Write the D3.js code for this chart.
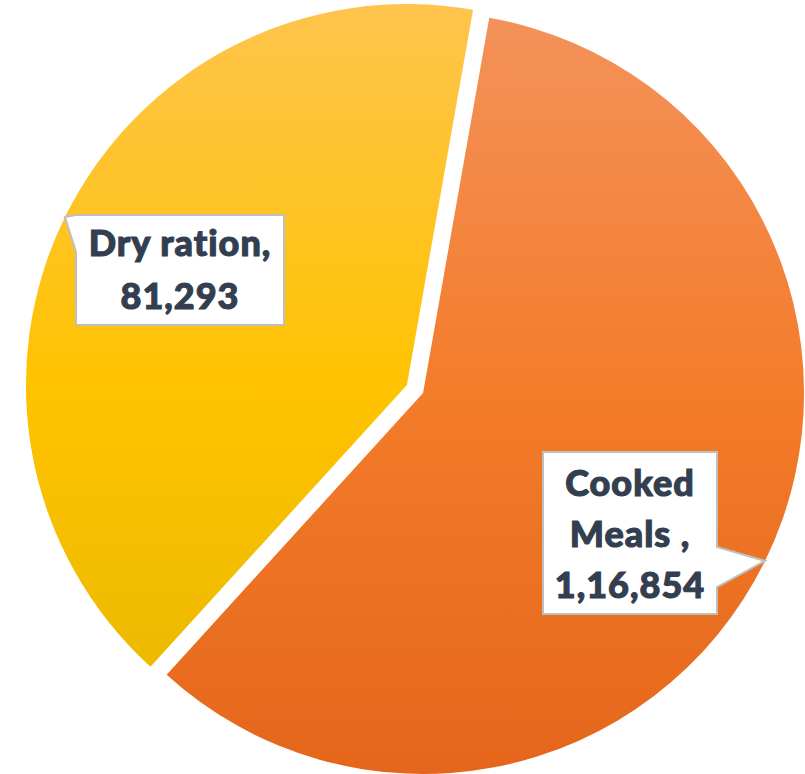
<!DOCTYPE html>
<html>
<head>
<meta charset="utf-8">
<title>Meals pie</title>
<script src="https://cdnjs.cloudflare.com/ajax/libs/d3/7.8.5/d3.min.js"></script>
<style>
  html, body { margin: 0; padding: 0; background: #fff; }
  svg { display: block; }
  .lbl { font-family: Lato, "Open Sans", sans-serif; font-weight: 900; fill: #333F50;
         stroke: #333F50; stroke-width: 1.1px; letter-spacing: 1px; }
</style>
</head>
<body>
<div id="chart"></div>
<script>
// data
const categories = ["Cooked Meals", "Dry ration"];
const values = [116854, 81293];
const labelLines = [["Cooked", "Meals ,", "1,16,854"], ["Dry ration,", "81,293"]];

const width = 805, height = 774;
const cx = 415, cy = 389, radius = 381;
const explode = 9;
const startDeg = 10;

// colours (top / middle / bottom of the gradient)
const gradStops = [
    ["#F4925B", "#F37C2A", "#E5661B"],
    ["#FEC44D", "#FFC300", "#E7B700"]
];

const svg = d3.select("#chart").append("svg")
    .attr("width", width)
    .attr("height", height);

const defs = svg.append("defs");

const pie = d3.pie()
    .sort(null)
    .startAngle(startDeg * Math.PI / 180)
    .endAngle(startDeg * Math.PI / 180 + 2 * Math.PI);

const arcs = pie(values);
const arc = d3.arc().innerRadius(0).outerRadius(radius);

// offset of each exploded slice, gradient in the slice's own space
arcs.forEach((d, i) => {
    const mid = (d.startAngle + d.endAngle) / 2;
    d.ox = cx + explode * Math.sin(mid);
    d.oy = cy - explode * Math.cos(mid);
    d.mid = mid;
    const g = defs.append("linearGradient")
        .attr("id", "grad" + i)
        .attr("gradientUnits", "userSpaceOnUse")
        .attr("x1", 0).attr("x2", 0)
        .attr("y1", -radius).attr("y2", radius);
    gradStops[i].forEach((c, k) => {
        g.append("stop").attr("offset", k / 2).attr("stop-color", c);
    });
});

svg.selectAll("path.slice")
    .data(arcs)
    .enter()
    .append("path")
    .attr("class", "slice")
    .attr("transform", d => `translate(${d.ox},${d.oy})`)
    .attr("d", arc)
    .attr("fill", (d, i) => `url(#grad${i})`);

// callout boxes: [left, top, right, bottom], pointer side and base span
const boxes = [
    { x0: 543, y0: 452, x1: 717, y1: 614, side: "right", b0: 547, b1: 587, cx: 630, base: 496, lh: 51 },
    { x0: 76, y0: 215, x1: 284, y1: 325, side: "left", b0: 215, b1: 252, cx: 180, base: 256, lh: 53 }
];

arcs.forEach((d, i) => {
    const b = boxes[i];
    const tx = d.ox + radius * Math.sin(d.mid);
    const ty = d.oy - radius * Math.cos(d.mid);
    let pts;
    if (b.side === "right") {
        pts = [[b.x0, b.y0], [b.x1, b.y0], [b.x1, b.b0], [tx, ty], [b.x1, b.b1], [b.x1, b.y1], [b.x0, b.y1]];
    } else {
        pts = [[b.x0, b.y0], [b.x1, b.y0], [b.x1, b.y1], [b.x0, b.y1], [b.x0, b.b1], [tx, ty], [b.x0, b.b0]];
    }
    svg.append("path")
        .attr("d", d3.line()(pts) + "Z")
        .attr("fill", "#fff")
        .attr("stroke", "#BFBFBF")
        .attr("stroke-width", 2)
        .attr("stroke-linejoin", "miter");

    const t = svg.append("text")
        .attr("class", "lbl")
        .attr("text-anchor", "middle")
        .style("font-size", "36px");
    labelLines[i].forEach((line, k) => {
        t.append("tspan")
            .attr("x", b.cx)
            .attr("y", b.base + k * b.lh)
            .text(line);
    });
});
</script>
</body>
</html>
